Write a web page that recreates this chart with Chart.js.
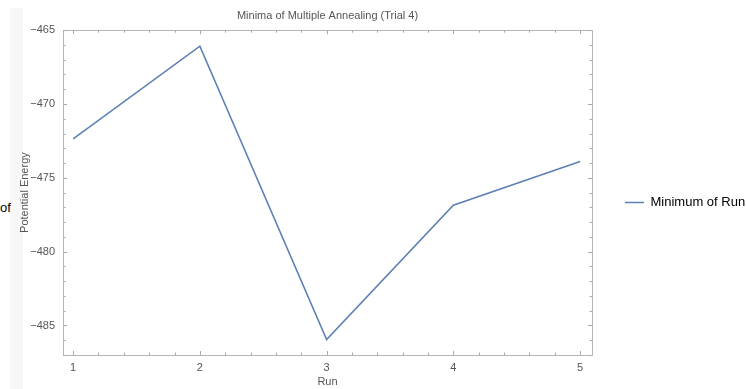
<!DOCTYPE html>
<html>
<head>
<meta charset="utf-8">
<script src="https://cdn.jsdelivr.net/npm/chart.js@4"></script>
<style>
  html, body { margin: 0; padding: 0; background: #fff; }
  #wrap { position: relative; width: 746px; height: 389px; }
  #strip { position: absolute; left: 10px; top: 8px; width: 13px; height: 381px; background: #f7f7f7; }
  #stray { position: absolute; left: 0; top: 200px; font: 13px "Liberation Sans", Arial, sans-serif; color: #000; }
  canvas { position: absolute; left: 0; top: 0; }
</style>
</head>
<body>
<div id="wrap">
  <div id="strip"></div>
  <div id="stray">of</div>
  <canvas id="chartMinima" width="746" height="389"></canvas>
</div>
<script>
const runs = [1, 2, 3, 4, 5];
const minima = [-472.36, -466.08, -485.95, -476.85, -473.9];
const xTicks = [1, 2, 3, 4, 5];
const yTicks = [-465, -470, -475, -480, -485];

const lineColor = '#5e81b5';
const labelColor = '#555';
const fontFamily = '"Liberation Sans", Arial, sans-serif';

// Mathematica-style frame with inward ticks
const framePlugin = {
  id: 'frame',
  afterDatasetsDraw(chart){
    const {ctx, chartArea: a, scales: {x, y}} = chart;
    ctx.save();
    ctx.strokeStyle = '#b5b5b5';
    ctx.lineWidth = 1;
    ctx.strokeRect(Math.round(a.left) + 0.5, Math.round(a.top) + 0.5, Math.round(a.right - a.left), Math.round(a.bottom - a.top));
    ctx.strokeStyle = '#a8a8a8';
    ctx.beginPath();
    const xs = [];
    for(let v = xTicks[0]; v <= xTicks[xTicks.length-1] + 1e-6; v += 0.2){
      const major = Math.abs(v - Math.round(v)) < 1e-6;
      xs.push([x.getPixelForValue(v), major ? 4 : 2.5]);
    }
    xs.forEach(([px, len]) =>{
      const p = Math.round(px) + 0.5;
      ctx.moveTo(p, a.bottom); ctx.lineTo(p, a.bottom - len);
      ctx.moveTo(p, a.top); ctx.lineTo(p, a.top + len);
    });
    for(let v = Math.ceil(y.min); v <= y.max; v++){
      const len = v % 5 === 0 ? 4 : 2.5;
      const p = Math.round(y.getPixelForValue(v)) + 0.5;
      ctx.moveTo(a.left, p); ctx.lineTo(a.left + len, p);
      ctx.moveTo(a.right, p); ctx.lineTo(a.right - len, p);
    }
    ctx.stroke();
    ctx.restore();
  }
};

const cfg = {
  type: 'line',
  data: {
    datasets: [{
      label: 'Minimum of Run',
      data: runs.map((r, i) => ({x: r, y: minima[i]})),
      borderColor: lineColor,
      backgroundColor: lineColor,
      borderWidth: 1.6,
      pointRadius: 0,
      tension: 0
    }]
  },
  options: {
    responsive: false,
    animation: false,
    layout: { padding: 0 },
    plugins: {
      legend: {
        position: 'right',
        maxWidth: 121,
        title: { display: true, text: ' ', padding: 0, font: { size: 16, lineHeight: 1 } },
        labels: {
          boxWidth: 19, boxHeight: 0, padding: 0,
          color: '#000',
          font: { family: fontFamily, size: 13 }
        }
      },
      title: {
        display: true,
        fullSize: false,
        text: 'Minima of Multiple Annealing (Trial 4)',
        color: labelColor,
        font: { family: fontFamily, size: 11, weight: 'normal' },
        padding: { top: 9, bottom: 8 }
      },
      tooltip: { enabled: false }
    },
    scales: {
      x: {
        type: 'linear',
        min: 0.92, max: 5.094,
        afterBuildTicks: s =>{ s.ticks = xTicks.map(v => ({value: v})); },
        afterFit: s =>{ s.height = 34; },
        grid: { display: false, drawTicks: false },
        border: { display: false },
        ticks: { color: labelColor, padding: 6, font: { family: fontFamily, size: 11 } },
        title: { display: true, text: 'Run', color: labelColor, padding: { top: 0, bottom: 0 }, font: { family: fontFamily, size: 11 } }
      },
      y: {
        position: 'left',
        min: -487, max: -465,
        afterBuildTicks: s =>{ s.ticks = yTicks.map(v => ({value: v})); },
        afterFit: s =>{ s.width = 63; },
        grid: { display: false, drawTicks: false },
        border: { display: false },
        ticks: {
          color: labelColor, padding: 8,
          font: { family: fontFamily, size: 11 },
          callback: v => String(v).replace('-', '\u2212')
        },
        title: { display: true, text: 'Potential Energy', color: labelColor, padding: { top: 18, bottom: 0 }, font: { family: fontFamily, size: 11 } }
      },
      gap: {
        position: 'right',
        display: true,
        afterFit: s =>{ s.width = 33; },
        grid: { display: false, drawTicks: false },
        border: { display: false },
        ticks: { display: false }
      }
    }
  },
  plugins: [framePlugin]
};

new Chart(document.getElementById('chartMinima').getContext('2d'), cfg);
</script>
</body>
</html>
